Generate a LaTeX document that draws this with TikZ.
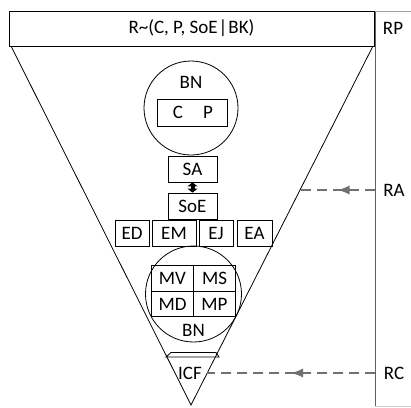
\documentclass[tikz,border=0pt]{standalone}
\usepackage{fontspec}
\setmainfont{Carlito}
\usetikzlibrary{arrows.meta,decorations.markings}
\definecolor{dashgray}{HTML}{707070}
\definecolor{colgray}{HTML}{606060}
\begin{document}
\begin{tikzpicture}[x=1pt,y=-1pt,
  every node/.style={font=\fontsize{19}{22}\selectfont, inner sep=0pt},
  line width=0.8pt,
  boxnode/.style={draw, minimum height=26pt, anchor=center},
  bncircle/.style={draw, circle, minimum size=#1},
  cellnode/.style={draw, minimum width=42pt, minimum height=25.5pt},
  lvlarrow/.style={draw=dashgray, line width=1.4pt, dash pattern=on 10pt off 6pt,
     postaction={decorate},
     decoration={markings, mark=at position 0.5 with {\arrow[dashgray,solid]{Latex[length=12pt,width=9pt]}}}},
]
\useasboundingbox (0,0) rectangle (411,407);
% right column
\coordinate (colTop) at (375,11);
\coordinate (colBot) at (375,407);
\draw[colgray, line width=1pt] (colTop) -- (colBot);
\draw[colgray!60, line width=0.8pt] (colTop) -- (411,11);
\draw[colgray!30, line width=0.6pt] (colBot) ++(0,-1) -- (411,406);
% title box
\node[draw, minimum width=365pt, minimum height=35pt] (title) at (191.5,28.5) {R\textasciitilde(C, P, SoE{\kern1pt}|{\kern1pt}BK)};
% triangle
\coordinate (tl) at (11,46);
\coordinate (tr) at (373,46);
\coordinate (apex) at (191,405);
\draw (tl) -- (apex) -- (tr);
% top BN
\node[bncircle=94pt] (bn1) at (191,108) {};
\node (bn1lab) at (191,82) {BN};
\node[draw, minimum width=70pt, minimum height=27pt] (cp) at (192,112.5) {};
\node (c) at (178,112.5) {C};
\node (p) at (208,112.5) {P};
% SA / SoE
\node[boxnode, minimum width=49pt] (sa) at (192.5,169) {SA};
\node[boxnode, minimum width=49pt] (soe) at (192.5,206) {SoE};
\draw[line width=4pt, {Triangle[length=4pt,width=10pt]}-{Triangle[length=4pt,width=10pt]}] (sa.south) -- (soe.north);
% E row
\node[boxnode, minimum width=34pt] (ed) at (132,233) {ED};
\node[boxnode, minimum width=44pt] (em) at (174,233) {EM};
\node[boxnode, minimum width=34pt] (ej) at (216,233) {EJ};
\node[boxnode, minimum width=35pt] (ea) at (254.5,233) {EA};
% bottom BN
\node[bncircle=96pt] (bn2) at (193.5,294) {};
\node[cellnode] (mv) at (172.5,278.5) {MV};
\node[cellnode] (ms) at (214.5,278.5) {MS};
\node[cellnode] (md) at (172.5,304) {MD};
\node[cellnode] (mp) at (214.5,304) {MP};
\node (bn2lab) at (193.5,330) {BN};
% ICF
\draw (166,357) -- (171,352.5) -- (216,352.5) -- (219,357) -- cycle;
\node (icf) at (190,373) {ICF};
% labels
\node (rp) at (393,28) {RP};
\node (ra) at (394,190) {RA};
\node (rc) at (394,373) {RC};
% dashed arrows
\coordinate (raS) at (375,190);
\coordinate (raE) at (300,190);
\coordinate (rcS) at (375,373);
\coordinate (rcE) at (207,373);
\draw[lvlarrow] (raS) -- (raE);
\draw[lvlarrow] (rcS) -- (rcE);
\end{tikzpicture}
\end{document}
